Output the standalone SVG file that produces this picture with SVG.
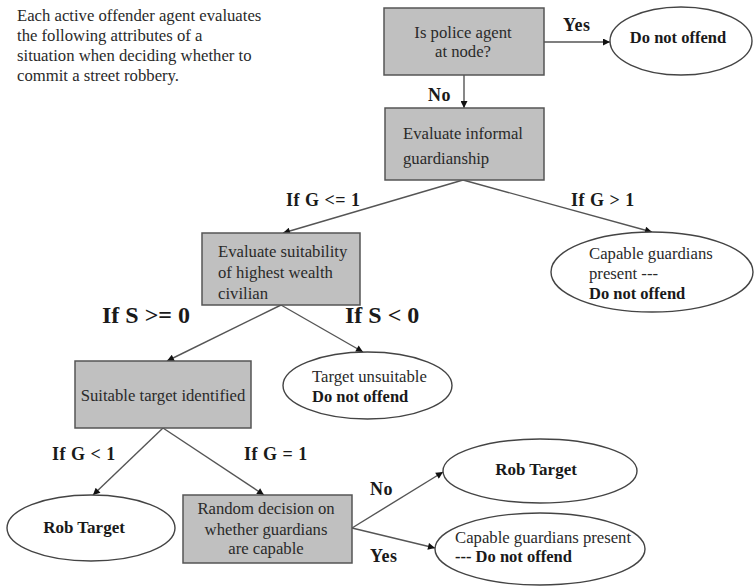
<svg xmlns="http://www.w3.org/2000/svg" width="754" height="586" viewBox="0 0 754 586">
<defs>
<style>
.t,.b,.lb,.big{font-family:'Liberation Serif','Times New Roman',Tinos,'DejaVu Serif','Noto Serif',serif;fill:#2a2a2a}
.t{font-size:16.7px}
.b{font-size:16.5px;font-weight:bold;fill:#1a1a1a}
.lb{font-size:18px;font-weight:bold;letter-spacing:0.5px;fill:#1a1a1a}
.big{font-size:24px;font-weight:bold;fill:#1a1a1a}
.box{fill:#c0c0c0;stroke:#555;stroke-width:1.5}
.ell{fill:#fff;stroke:#444;stroke-width:1.4}
.con{stroke:#555;stroke-width:1.4;fill:none;marker-end:url(#ah)}
</style>
<marker id="ah" viewBox="0 0 10 10" refX="10" refY="5" markerWidth="9" markerHeight="7" markerUnits="userSpaceOnUse" orient="auto">
<path d="M0,0 L10,5 L0,10 z" fill="#111"/>
</marker>
</defs>
<rect width="754" height="586" fill="#fff"/>
<g id="intro">
<text class="t" x="17" y="21">Each active offender agent evaluates</text>
<text class="t" x="17" y="41">the following attributes of a</text>
<text class="t" x="17" y="61">situation when deciding whether to</text>
<text class="t" x="17" y="81">commit a street robbery.</text>
</g>
<g id="connectors">
<line class="con" x1="544" y1="42" x2="610" y2="42"/>
<line class="con" x1="464" y1="75" x2="464" y2="108"/>
<line class="con" x1="463" y1="180" x2="283" y2="233"/>
<line class="con" x1="463" y1="180" x2="652" y2="232"/>
<line class="con" x1="281" y1="305" x2="167" y2="361"/>
<line class="con" x1="281" y1="305" x2="363" y2="352"/>
<line class="con" x1="163" y1="428" x2="93" y2="495"/>
<line class="con" x1="163" y1="428" x2="264" y2="495"/>
<line class="con" x1="352" y1="528" x2="443" y2="472"/>
<line class="con" x1="352" y1="528" x2="435" y2="548"/>
<text class="lb" x="563" y="31">Yes</text>
<text class="lb" x="428" y="101">No</text>
<text class="lb" x="286" y="206">If G &lt;= 1</text>
<text class="lb" x="571" y="206">If G &gt; 1</text>
<text class="big" x="102" y="323">If S &gt;= 0</text>
<text class="big" x="345" y="323">If S &lt; 0</text>
<text class="lb" x="52" y="460">If G &lt; 1</text>
<text class="lb" x="244" y="460">If G = 1</text>
<text class="lb" x="370" y="495">No</text>
<text class="lb" x="370" y="562">Yes</text>
</g>
<g id="police">
<rect class="box" x="384" y="8" width="160" height="67"/>
<text class="t" x="463" y="38" text-anchor="middle">Is police agent</text>
<text class="t" x="463" y="57" text-anchor="middle">at node?</text>
</g>
<g id="noOffend1">
<ellipse class="ell" cx="681" cy="41" rx="71" ry="34"/>
<text class="b" x="678" y="43" text-anchor="middle">Do not offend</text>
</g>
<g id="informal">
<rect class="box" x="385" y="108" width="159" height="72"/>
<text class="t" x="403" y="139">Evaluate informal</text>
<text class="t" x="403" y="164">guardianship</text>
</g>
<g id="suitability">
<rect class="box" x="202" y="233" width="158" height="72"/>
<text class="t" x="218" y="257">Evaluate suitability</text>
<text class="t" x="218" y="278">of highest wealth</text>
<text class="t" x="218" y="299">civilian</text>
</g>
<g id="capable1">
<ellipse class="ell" cx="652" cy="272" rx="101" ry="40"/>
<text class="t" x="589" y="259">Capable guardians</text>
<text class="t" x="589" y="279">present ---</text>
<text class="b" x="589" y="299">Do not offend</text>
</g>
<g id="suitable">
<rect class="box" x="75" y="361" width="176" height="67"/>
<text class="t" x="163" y="401" text-anchor="middle">Suitable target identified</text>
</g>
<g id="unsuitable">
<ellipse class="ell" cx="367.5" cy="385.5" rx="84.5" ry="33.5"/>
<text class="t" x="312" y="382">Target unsuitable</text>
<text class="b" x="312" y="402">Do not offend</text>
</g>
<g id="rob1">
<ellipse class="ell" cx="91" cy="528" rx="84" ry="33"/>
<text class="b" x="84" y="533" text-anchor="middle" style="font-size:17px">Rob Target</text>
</g>
<g id="random">
<rect class="box" x="183" y="495" width="169" height="68"/>
<text class="t" x="266" y="514" text-anchor="middle">Random decision on</text>
<text class="t" x="266" y="535" text-anchor="middle">whether guardians</text>
<text class="t" x="266" y="554" text-anchor="middle">are capable</text>
</g>
<g id="rob2">
<ellipse class="ell" cx="540" cy="471" rx="97" ry="32"/>
<text class="b" x="536" y="475" text-anchor="middle" style="font-size:17px">Rob Target</text>
</g>
<g id="capable2">
<ellipse class="ell" cx="540" cy="549" rx="105" ry="36"/>
<text class="t" x="455" y="543">Capable guardians present</text>
<text class="b" x="455" y="562">--- Do not offend</text>
</g>
</svg>
